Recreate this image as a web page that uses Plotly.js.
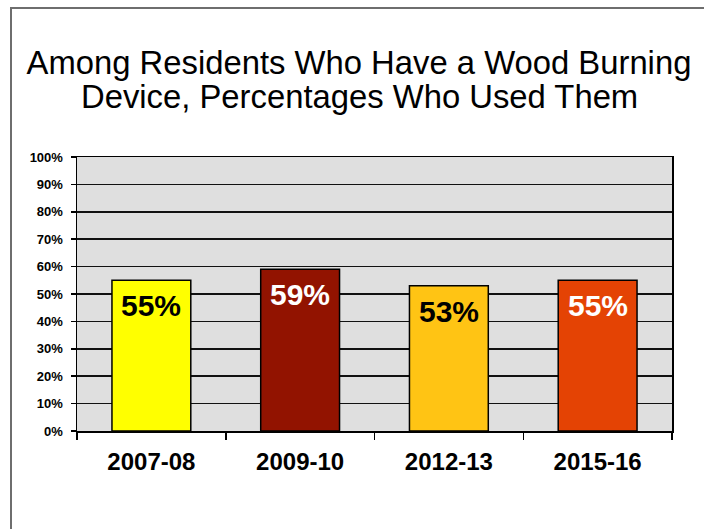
<!DOCTYPE html>
<html>
<head>
<meta charset="utf-8">
<script src="https://cdn.plot.ly/plotly-3.0.1.min.js"></script>
<style>
  html, body { margin: 0; padding: 0; background: #ffffff; }
  #frame { position: absolute; left: 10px; top: 7px; width: 720px; height: 540px;
           border-left: 2px solid #6e6e6e; border-top: 2px solid #6e6e6e; box-sizing: border-box; }
  #chart { position: absolute; left: 0; top: 0; width: 704px; height: 529px; }
</style>
</head>
<body>
<div id="frame"></div>
<div id="chart"></div>
<script>
// ---- data ----
const categories = ["2007-08", "2009-10", "2012-13", "2015-16"];
const shares = [0.55, 0.59, 0.53, 0.55];
const barLabels = ["55%", "59%", "53%", "55%"];
const barColors = ["#ffff00", "#921300", "#ffc414", "#e44304"];
const labelColors = ["#000000", "#ffffff", "#000000", "#ffffff"];
const titleLine1 = "Among Residents Who Have a Wood Burning";
const titleLine2 = "Device, Percentages Who Used Them";

const font = "Liberation Sans, Arial, sans-serif";

const trace = {
  type: "bar",
  x: categories,
  y: shares,
  marker: { color: barColors, line: { color: "#000000", width: 1.5 } },
  hoverinfo: "skip"
};

const annotations = categories.map((c, i) => ({
  x: c, y: shares[i], xref: "x", yref: "y",
  text: "<b>" + barLabels[i] + "</b>",
  showarrow: false, yanchor: "top", xanchor: "center", yshift: -7,
  font: { family: font, size: 30, color: labelColors[i] }
}));
annotations.push({
  xref: "paper", yref: "paper", x: (359 - 77) / 595, y: 1, yanchor: "bottom", xanchor: "center",
  yshift: 40, showarrow: false, text: titleLine2,
  font: { family: font, size: 32.8, color: "#000000" }
});

const layout = {
  width: 704, height: 529,
  margin: { l: 77, r: 32, t: 157, b: 98 },
  paper_bgcolor: "rgba(0,0,0,0)",
  plot_bgcolor: "#dfdfdf",
  showlegend: false,
  bargap: 0.47,
  title: {
    text: titleLine1, xref: "container", yref: "container",
    x: 359 / 704, xanchor: "center", y: 1 - 63 / 529, yanchor: "middle",
    font: { family: font, size: 32.8, color: "#000000" }
  },
  xaxis: {
    type: "category",
    tickson: "boundaries",
    ticks: "outside", ticklen: 7, tickwidth: 1.5, tickcolor: "#000000",
    showline: true, linecolor: "#000000", linewidth: 1.5, mirror: true,
    showgrid: false,
    tickfont: { family: font, size: 24, color: "#000000", weight: "bold" },
    ticklabelstandoff: 9
  },
  yaxis: {
    range: [0, 1], dtick: 0.1, tickformat: ".0%",
    ticks: "outside", ticklen: 5, tickwidth: 1.5, tickcolor: "#000000",
    showline: true, linecolor: "#000000", linewidth: 1.5, mirror: true,
    showgrid: true, gridcolor: "#111111", gridwidth: 1.5,
    zeroline: false,
    tickfont: { family: font, size: 13, color: "#000000", weight: "bold" },
    ticklabelstandoff: 5
  },
  annotations: annotations
};

Plotly.newPlot("chart", [trace], layout, { displayModeBar: false, staticPlot: true });
</script>
</body>
</html>
